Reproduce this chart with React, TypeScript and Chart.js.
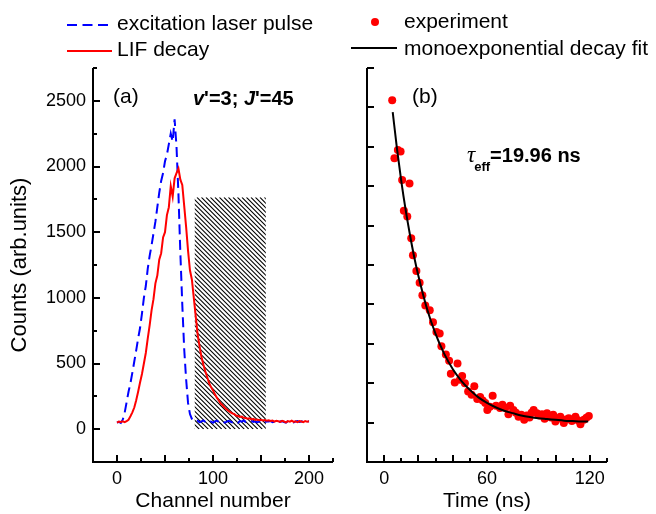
import React, { useEffect, useRef } from "react";
import { Chart, registerables } from "chart.js";

Chart.register(...registerables);

const FONT = "'Liberation Sans', Arial, Helvetica, sans-serif";
const SERIF = "'Liberation Serif', 'Times New Roman', serif";

// ---------- panel (a) ----------
const CHANNELS = Array.from({ length: 101 }, (_, i) => i * 2);
const LASER_PULSE = [
  50, 56, 48, 72, 125, 205, 285, 350, 430, 515,
  600, 690, 770, 880, 1000, 1090, 1220, 1320, 1400, 1490,
  1580, 1690, 1800, 1890, 1950, 2040, 2090, 2170, 2250, 2190,
  2360, 2150, 1790, 1340, 950, 610, 380, 200, 115, 78,
  62, 58, 64, 52, 60, 66, 55, 50, 62, 58,
  48, 60, 65, 54, 57, 62, 50, 56, 64, 58,
  52, 60, 55, 49, 62, 57, 66, 54, 50, 58,
  63, 55, 60, 52, 57, 64, 55, 50, 60, 58,
  62, 54, 57, 65, 52, 58, 61, 55, 50, 60,
  63, 56, 52, 59, 62, 55, 58, 64, 56, 60,
  58,
];
const LIF_DECAY = [
  50, 58, 55, 60, 54, 62, 72, 98, 128, 165,
  220, 285, 355, 420, 500, 580, 690, 790, 905, 990,
  1110, 1170, 1290, 1340, 1460, 1500, 1630, 1690, 1850, 1770,
  1910, 1950, 1985, 1900, 1860, 1700, 1540, 1360, 1210, 1140,
  1000, 860, 720, 630, 550, 490, 440, 395, 350, 320,
  295, 265, 240, 218, 195, 182, 165, 152, 140, 130,
  120, 116, 104, 100, 93, 96, 86, 85, 79, 83,
  74, 78, 70, 74, 68, 72, 66, 70, 64, 68,
  62, 66, 58, 64, 60, 55, 63, 58, 52, 61,
  57, 64, 55, 60, 53, 62, 58, 54, 61, 57,
  60,
];
const GATE_CHANNELS = [81, 155];
const GATE_COUNTS = [0, 1765];

const A_X_LABELS = [0, 100, 200];
const A_X_MAJOR = [0, 50, 100, 150, 200];
const A_X_MINOR = [25, 75, 125, 175, 225];
const A_Y_LABELS = [0, 500, 1000, 1500, 2000, 2500];
const A_Y_MINOR = [250, 750, 1250, 1750, 2250, 2750];

// ---------- panel (b) ----------
const EXP_TIME = [
  4.7, 6.0, 8.0, 9.6, 10.5, 11.5, 13.5, 14.8, 15.8, 16.8,
  18.8, 20.7, 22.3, 24.0, 26.6, 28.5, 30.5, 32.4, 33.4, 36.0,
  37.9, 38.9, 41.2, 42.8, 44.2, 45.5, 47.1, 49.0, 51.0, 52.6,
  54.3, 56.0, 57.5, 59.0, 60.2, 61.7, 63.3, 65.3, 67.6, 69.0,
  70.6, 72.5, 73.5, 75.4, 76.9, 78.4, 80.0, 81.7, 83.2, 84.8,
  86.0, 87.2, 89.1, 90.6, 92.1, 93.6, 95.0, 97.4, 98.6, 99.9,
  101.3, 102.8, 104.8, 106.2, 107.7, 109.5, 111.6, 113.0, 114.5, 116.5,
  118.0, 119.4,
];
const EXP_SIGNAL = [
  918, 771, 792, 788, 716, 638, 623, 707, 568, 525,
  485, 455, 423, 397, 385, 355, 330, 326, 294, 273,
  257, 224, 202, 250, 209, 218, 200, 179, 171, 192,
  160, 165, 156, 150, 132, 140, 168, 143, 137, 145,
  138, 121, 143, 132, 125, 115, 120, 107, 118, 113,
  125, 132, 124, 118, 121, 110, 124, 113, 120, 103,
  110, 115, 99, 108, 111, 104, 115, 106, 96, 107,
  112, 117,
];
const FIT_TIME = [5, 7.5, 10, 12.5, 15, 17.5, 20, 25, 30, 35, 40, 45, 50, 55, 60, 65, 70, 75, 80, 85, 90, 95, 100, 105, 110, 115, 119];
const FIT_SIGNAL = [888, 795, 713, 641, 578, 521, 472, 389, 325, 275, 236, 206, 183, 164, 150, 139, 130, 124, 118, 114, 111, 109, 107, 105, 104, 103, 103];

const B_X_LABELS = [0, 60, 120];
const B_X_MAJOR = [0, 20, 40, 60, 80, 100, 120];
const B_X_MINOR = [10, 30, 50, 70, 90, 110, 130];
const B_Y_MAJOR = [100, 200, 300, 400, 500, 600, 700, 800, 900, 1000];

const W = 656;
const H = 514;

const frameTicks = {
  id: "frameTicks",
  afterDatasetsDraw(chart: any, _args: any, opts: any) {
    const { ctx, chartArea } = chart;
    const xs = chart.scales.x;
    const ys = chart.scales.y;
    const L = Math.round(chartArea.left);
    const R = Math.round(chartArea.right);
    const T = Math.round(chartArea.top);
    const B = Math.round(chartArea.bottom);
    ctx.save();
    ctx.strokeStyle = "#000";
    ctx.lineWidth = 2;
    ctx.lineJoin = "miter";
    ctx.beginPath();
    ctx.moveTo(L, T);
    ctx.lineTo(L, B);
    ctx.lineTo(R, B);
    ctx.stroke();
    ctx.beginPath();
    const xs2: [number[], number][] = [[opts.xMajor || [], 7], [opts.xMinor || [], 4]];
    for (const [vals, len] of xs2) {
      for (const v of vals) {
        const p = Math.round(xs.getPixelForValue(v));
        ctx.moveTo(p, B);
        ctx.lineTo(p, B - len);
      }
    }
    const ys2: [number[], number][] = [[opts.yMajor || [], 7], [opts.yMinor || [], 4]];
    for (const [vals, len] of ys2) {
      for (const v of vals) {
        const p = Math.round(ys.getPixelForValue(v));
        ctx.moveTo(L, p);
        ctx.lineTo(L + len, p);
      }
    }
    ctx.stroke();
    ctx.restore();
  },
};

const gateHatch = {
  id: "gateHatch",
  beforeDatasetsDraw(chart: any) {
    const { ctx } = chart;
    const xs = chart.scales.x;
    const ys = chart.scales.y;
    const x1 = xs.getPixelForValue(GATE_CHANNELS[0]);
    const x2 = xs.getPixelForValue(GATE_CHANNELS[1]);
    const y1 = ys.getPixelForValue(GATE_COUNTS[1]);
    const y2 = ys.getPixelForValue(GATE_COUNTS[0]);
    const h = y2 - y1;
    ctx.save();
    ctx.beginPath();
    ctx.rect(x1, y1, x2 - x1, h);
    ctx.clip();
    ctx.strokeStyle = "#000";
    ctx.lineWidth = 1.1;
    ctx.beginPath();
    for (let x = x1 - h; x < x2 + 2; x += 4.5) {
      ctx.moveTo(x, y1);
      ctx.lineTo(x + h, y2);
    }
    ctx.stroke();
    ctx.restore();
  },
};

function setFont(ctx: CanvasRenderingContext2D, style: string, size: number, family = FONT) {
  ctx.font = `${style} ${size}px ${family}`;
}

const leftDecor = {
  id: "leftDecor",
  afterDraw(chart: any) {
    const ctx: CanvasRenderingContext2D = chart.ctx;
    const ds = chart.data.datasets;
    const pulse = ds.find((d: any) => d.key === "pulse");
    const lif = ds.find((d: any) => d.key === "lif");
    ctx.save();
    ctx.fillStyle = "#000";
    ctx.textBaseline = "middle";
    ctx.lineWidth = 2;
    ctx.strokeStyle = pulse.borderColor;
    ctx.setLineDash(pulse.borderDash);
    ctx.beginPath();
    ctx.moveTo(67, 25);
    ctx.lineTo(108, 25);
    ctx.stroke();
    ctx.setLineDash([]);
    ctx.strokeStyle = lif.borderColor;
    ctx.beginPath();
    ctx.moveTo(67, 51);
    ctx.lineTo(112, 51);
    ctx.stroke();
    setFont(ctx, "normal", 21);
    ctx.fillText(pulse.label, 117, 24);
    ctx.fillText(lif.label, 117, 50);
    ctx.fillText("(a)", 113, 97);
    ctx.textBaseline = "alphabetic";
    let x = 193;
    const parts: [string, string][] = [
      ["italic bold", "v"],
      ["bold", "'=3; "],
      ["italic bold", "J"],
      ["bold", "'=45"],
    ];
    for (const [st, s] of parts) {
      setFont(ctx, st, 20);
      ctx.fillText(s, x, 105);
      x += ctx.measureText(s).width;
    }
    ctx.restore();
  },
};

const rightDecor = {
  id: "rightDecor",
  afterDraw(chart: any) {
    const ctx: CanvasRenderingContext2D = chart.ctx;
    const ds = chart.data.datasets;
    const exp = ds.find((d: any) => d.key === "exp");
    const fit = ds.find((d: any) => d.key === "fit");
    ctx.save();
    ctx.fillStyle = exp.backgroundColor;
    ctx.beginPath();
    ctx.arc(375, 22, exp.pointRadius, 0, Math.PI * 2);
    ctx.fill();
    ctx.strokeStyle = fit.borderColor;
    ctx.lineWidth = 2;
    ctx.beginPath();
    ctx.moveTo(351, 48);
    ctx.lineTo(397, 48);
    ctx.stroke();
    ctx.fillStyle = "#000";
    ctx.textBaseline = "middle";
    setFont(ctx, "normal", 21);
    ctx.fillText(exp.label, 404, 22);
    ctx.fillText(fit.label, 404, 49);
    ctx.fillText("(b)", 412, 97);
    ctx.textBaseline = "alphabetic";
    setFont(ctx, "italic", 23, SERIF);
    ctx.fillText("τ", 467, 162);
    let x = 467 + ctx.measureText("τ").width - 1;
    setFont(ctx, "bold", 13);
    ctx.fillText("eff", x, 171);
    x += ctx.measureText("eff").width;
    setFont(ctx, "bold", 20);
    ctx.fillText("=19.96 ns", x, 162);
    ctx.restore();
  },
};

const tickFont = { family: FONT, size: 18 };
const titleFont = { family: FONT, size: 21 };

export default function App() {
  const leftRef = useRef<HTMLCanvasElement>(null);
  const rightRef = useRef<HTMLCanvasElement>(null);

  useEffect(() => {
    document.body.style.margin = "0";
    const left = new Chart(leftRef.current as HTMLCanvasElement, {
      type: "line",
      data: {
        datasets: [
          {
            key: "lif",
            label: "LIF decay",
            data: CHANNELS.map((c, i) => ({ x: c, y: LIF_DECAY[i] })),
            borderColor: "#ff0000",
            borderWidth: 2,
            pointRadius: 0,
            tension: 0,
            order: 0,
          } as any,
          {
            key: "pulse",
            label: "excitation laser pulse",
            data: CHANNELS.map((c, i) => ({ x: c, y: LASER_PULSE[i] })),
            borderColor: "#0000ff",
            borderWidth: 2,
            borderDash: [10, 5.5],
            pointRadius: 0,
            tension: 0,
            order: 1,
          } as any,
        ],
      },
      options: {
        animation: false,
        responsive: false,
        events: [],
        layout: { padding: { left: 0, top: 68, right: W - 333, bottom: 0 } },
        plugins: {
          legend: { display: false },
          tooltip: { enabled: false },
          frameTicks: { xMajor: A_X_MAJOR, xMinor: A_X_MINOR, yMajor: A_Y_LABELS, yMinor: A_Y_MINOR },
        } as any,
        scales: {
          x: {
            type: "linear",
            min: -25,
            max: 225,
            grid: { display: false, drawTicks: false },
            border: { display: false },
            afterBuildTicks: (s: any) => {
              s.ticks = A_X_LABELS.map((v) => ({ value: v }));
            },
            afterFit: (s: any) => {
              s.height = 52;
            },
            ticks: { font: tickFont, color: "#000", padding: 6, maxRotation: 0, autoSkip: false, callback: (v: any) => String(v) },
            title: { display: true, text: "Channel number", font: titleFont, color: "#000", padding: { top: 0, bottom: 0 } },
          },
          y: {
            type: "linear",
            min: -250,
            max: 2750,
            grid: { display: false, drawTicks: false },
            border: { display: false },
            afterBuildTicks: (s: any) => {
              s.ticks = A_Y_LABELS.map((v) => ({ value: v }));
            },
            afterFit: (s: any) => {
              s.width = 93;
            },
            ticks: { font: tickFont, color: "#000", padding: 7, autoSkip: false, callback: (v: any) => String(v) },
            title: { display: true, text: "Counts (arb.units)", font: { family: FONT, size: 22 }, color: "#000", padding: { top: 7, bottom: 0 } },
          },
        },
      },
      plugins: [gateHatch, frameTicks, leftDecor],
    } as any);

    const right = new Chart(rightRef.current as HTMLCanvasElement, {
      type: "line",
      data: {
        datasets: [
          {
            key: "fit",
            label: "monoexponential decay fit",
            data: FIT_TIME.map((t, i) => ({ x: t, y: FIT_SIGNAL[i] })),
            borderColor: "#000000",
            borderWidth: 2,
            pointRadius: 0,
            cubicInterpolationMode: "monotone",
            order: 0,
          } as any,
          {
            key: "exp",
            label: "experiment",
            data: EXP_TIME.map((t, i) => ({ x: t, y: EXP_SIGNAL[i] })),
            showLine: false,
            backgroundColor: "#ff0000",
            borderColor: "#ff0000",
            pointRadius: 4,
            pointBorderWidth: 0,
            order: 1,
          } as any,
        ],
      },
      options: {
        animation: false,
        responsive: false,
        events: [],
        layout: { padding: { left: 357, top: 68, right: W - 607, bottom: 0 } },
        plugins: {
          legend: { display: false },
          tooltip: { enabled: false },
          frameTicks: { xMajor: B_X_MAJOR, xMinor: B_X_MINOR, yMajor: B_Y_MAJOR, yMinor: [] },
        } as any,
        scales: {
          x: {
            type: "linear",
            min: -10,
            max: 130,
            grid: { display: false, drawTicks: false },
            border: { display: false },
            afterBuildTicks: (s: any) => {
              s.ticks = B_X_LABELS.map((v) => ({ value: v }));
            },
            afterFit: (s: any) => {
              s.height = 52;
            },
            ticks: { font: tickFont, color: "#000", padding: 6, maxRotation: 0, autoSkip: false, callback: (v: any) => String(v) },
            title: { display: true, text: "Time (ns)", font: titleFont, color: "#000", padding: { top: 0, bottom: 0 } },
          },
          y: {
            type: "linear",
            min: 0,
            max: 1000,
            grid: { display: false, drawTicks: false },
            border: { display: false },
            ticks: { display: false },
            afterFit: (s: any) => {
              s.width = 10;
            },
          },
        },
      },
      plugins: [frameTicks, rightDecor],
    } as any);

    return () => {
      left.destroy();
      right.destroy();
    };
  }, []);

  const cstyle: React.CSSProperties = { position: "absolute", left: 0, top: 0, width: W, height: H };
  return (
    <div style={{ position: "absolute", left: 0, top: 0, width: W, height: H, background: "#fff" }}>
      <canvas ref={leftRef} width={W} height={H} style={cstyle} />
      <canvas ref={rightRef} width={W} height={H} style={cstyle} />
    </div>
  );
}
